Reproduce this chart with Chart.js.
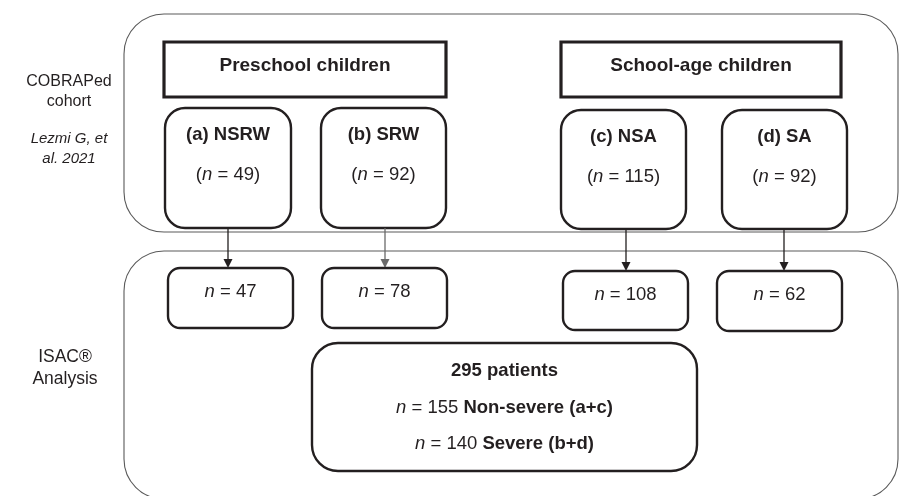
<!DOCTYPE html>
<html>
<head>
<meta charset="utf-8">
<script src="https://cdn.jsdelivr.net/npm/chart.js@4"></script>
<style>
  html, body { margin: 0; padding: 0; background: #fff; }
  canvas { display: block; }
</style>
</head>
<body>
<canvas id="flow" width="899" height="496"></canvas>
<script>
// data
const groups = ['Preschool children', 'School-age children'];
const subgroups = ['(a) NSRW', '(b) SRW', '(c) NSA', '(d) SA'];
const cohortN = [49, 92, 115, 92];
const analysedN = [47, 78, 108, 62];
const totalPatients = 295;
const nonSevereN = 155;
const severeN = 140;
const cohortLabel = ['COBRAPed', 'cohort'];
const citeLabel = ['Lezmi G, et', 'al. 2021'];
const analysisLabel = ['ISAC®', 'Analysis'];

// layout, in scale units (x 0..899, y 0..496 from top)
const panels = [
  { x: 124, y: 14, w: 774, h: 218, r: 40 },
  { x: 124, y: 251, w: 774, h: 248, r: 40 }
];
const groupBoxes = [
  { x: 164, y: 42, w: 282, h: 55 },
  { x: 561, y: 42, w: 280, h: 55 }
];
const cohortBoxes = [
  { x: 165, y: 108, w: 126, h: 120 },
  { x: 321, y: 108, w: 125, h: 120 },
  { x: 561, y: 110, w: 125, h: 119 },
  { x: 722, y: 110, w: 125, h: 119 }
];
const analysedBoxes = [
  { x: 168, y: 268, w: 125, h: 60 },
  { x: 322, y: 268, w: 125, h: 60 },
  { x: 563, y: 271, w: 125, h: 59 },
  { x: 717, y: 271, w: 125, h: 60 }
];
const arrowX = [228, 385, 626, 784];
const arrowColor = ['#231f20', '#6a6a6a', '#231f20', '#231f20'];
const totalBox = { x: 312, y: 343, w: 385, h: 128 };

const INK = '#231f20';
const FAMILY = '"Liberation Sans", Arial, sans-serif';
const FS = 18.5;

function font(style, size) {
  const pre = style === 'i' ? 'italic ' : style === 'b' ? 'bold ' : '';
  return pre + size + 'px ' + FAMILY;
}

function richText(ctx, parts, cx, cy, size) {
  let total = 0;
  const widths = parts.map(p => {
    ctx.font = font(p[1], size);
    const w = ctx.measureText(p[0]).width;
    total += w;
    return w;
  });
  let x = cx - total / 2;
  ctx.textAlign = 'left';
  ctx.textBaseline = 'middle';
  ctx.fillStyle = INK;
  parts.forEach((p, i) => {
    ctx.font = font(p[1], size);
    ctx.fillText(p[0], x, cy + 2);
    x += widths[i];
  });
}

function roundBox(ctx, x0, y0, x1, y1, r) {
  ctx.beginPath();
  ctx.moveTo(x0 + r, y0);
  ctx.lineTo(x1 - r, y0);
  ctx.arcTo(x1, y0, x1, y0 + r, r);
  ctx.lineTo(x1, y1 - r);
  ctx.arcTo(x1, y1, x1 - r, y1, r);
  ctx.lineTo(x0 + r, y1);
  ctx.arcTo(x0, y1, x0, y1 - r, r);
  ctx.lineTo(x0, y0 + r);
  ctx.arcTo(x0, y0, x0 + r, y0, r);
  ctx.closePath();
}

const flowPlugin = {
  id: 'flow',
  afterDatasetsDraw(chart) {
    const ctx = chart.ctx;
    const sx = v => chart.scales.x.getPixelForValue(v);
    const sy = v => chart.scales.y.getPixelForValue(v);
    const box = (b, r, lw, color) => {
      roundBox(ctx, sx(b.x), sy(b.y), sx(b.x + b.w), sy(b.y + b.h), r);
      ctx.lineWidth = lw;
      ctx.strokeStyle = color;
      ctx.stroke();
    };
    const cx = b => sx(b.x + b.w / 2);

    ctx.save();

    // outer panels
    panels.forEach(p => box(p, p.r, 1.1, '#5a5a5a'));

    // group header boxes
    groupBoxes.forEach((b, i) => {
      box(b, 0, 3.2, INK);
      richText(ctx, [[groups[i], 'b']], cx(b), sy(b.y + 22), 19);
    });

    // cohort boxes
    cohortBoxes.forEach((b, i) => {
      box(b, 20, 2.4, INK);
      richText(ctx, [[subgroups[i], 'b']], cx(b), sy(b.y + 25), FS);
      richText(ctx, [['(', 'r'], ['n', 'i'], [' = ' + cohortN[i] + ')', 'r']], cx(b), sy(b.y + 65), FS);
    });

    // arrows
    arrowX.forEach((ax, i) => {
      const y0 = cohortBoxes[i].y + cohortBoxes[i].h;
      const y1 = analysedBoxes[i].y;
      ctx.strokeStyle = arrowColor[i];
      ctx.fillStyle = arrowColor[i];
      ctx.lineWidth = 1.3;
      ctx.beginPath();
      ctx.moveTo(sx(ax), sy(y0));
      ctx.lineTo(sx(ax), sy(y1 - 6));
      ctx.stroke();
      ctx.beginPath();
      ctx.moveTo(sx(ax - 4.5), sy(y1 - 9));
      ctx.lineTo(sx(ax + 4.5), sy(y1 - 9));
      ctx.lineTo(sx(ax), sy(y1));
      ctx.closePath();
      ctx.fill();
    });

    // analysed boxes
    analysedBoxes.forEach((b, i) => {
      box(b, 12, 2.4, INK);
      richText(ctx, [['n', 'i'], [' = ' + analysedN[i], 'r']], cx(b), sy(b.y + 22), FS);
    });

    // totals
    box(totalBox, 26, 2.4, INK);
    const tc = cx(totalBox);
    richText(ctx, [[totalPatients + ' patients', 'b']], tc, sy(totalBox.y + 26), FS);
    richText(ctx, [['n', 'i'], [' = ' + nonSevereN + ' ', 'r'], ['Non-severe (a+c)', 'b']], tc, sy(totalBox.y + 63), FS);
    richText(ctx, [['n', 'i'], [' = ' + severeN + ' ', 'r'], ['Severe (b+d)', 'b']], tc, sy(totalBox.y + 99), FS);

    // side labels
    cohortLabel.forEach((t, i) => richText(ctx, [[t, 'r']], sx(69), sy(80 + i * 20), 16));
    citeLabel.forEach((t, i) => richText(ctx, [[t, 'i']], sx(69), sy(137 + i * 20), 15));
    analysisLabel.forEach((t, i) => richText(ctx, [[t, 'r']], sx(65), sy(355 + i * 22), 17.5));

    ctx.restore();
  }
};

new Chart(document.getElementById('flow'), {
  type: 'scatter',
  data: { datasets: [{ data: [], pointRadius: 0 }] },
  options: {
    responsive: false,
    devicePixelRatio: 1,
    animation: false,
    layout: { padding: 0 },
    plugins: { legend: { display: false }, tooltip: { enabled: false } },
    scales: {
      x: { type: 'linear', min: 0, max: 899, display: false },
      y: { type: 'linear', min: 0, max: 496, reverse: true, display: false }
    }
  },
  plugins: [flowPlugin]
});
</script>
</body>
</html>
